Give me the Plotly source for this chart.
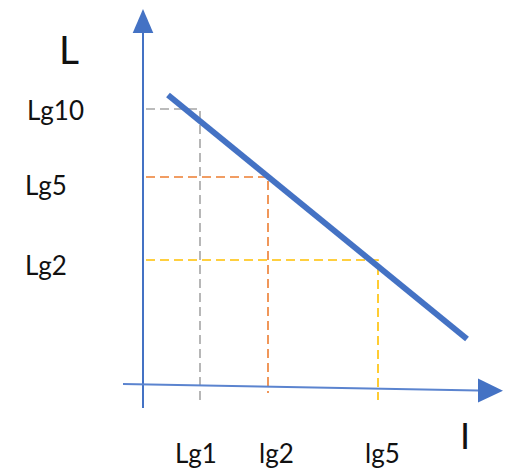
import plotly.graph_objects as go

# Schematic: L falls linearly as I grows (log scales), with read-off guides.
# Coordinates are measured from the origin where the two axes meet.

# Guide readings on the I axis and the L axis
i_labels = ["Lg1", "lg2", "lg5"]
i_values = [57, 125, 235]
l_labels = ["Lg10", "Lg5", "Lg2"]
l_values = [276, 208, 125]
guide_colors = ["#A5A5A5", "#ED7D31", "#FFC000"]
guide_bottoms = [-17, -8, -15]

# The falling L-I line
line_i = [25, 324]
line_l = [290, 46]

# Axis extents (axis line start/end, arrow tip)
y_axis_span = [-23, 352, 376]      # bottom, arrow base, arrow tip
x_axis_start = (-20, 1)
x_axis_base = (335, -5.5)
x_axis_tip = (360, -5.7)

X_RANGE = [-143, 363]
Y_RANGE = [-84, 385]
AXIS_BLUE = "#4472C4"
FONT = "Lato"
TEXT = "#111111"

fig = go.Figure()

# Dashed read-off guides
for xv, yv, col, yb in zip(i_values, l_values, guide_colors, guide_bottoms):
    fig.add_trace(go.Scatter(
        x=[3, xv, xv], y=[yv, yv, yb], mode="lines",
        line=dict(color=col, width=1.6, dash="9px,5px"),
        hoverinfo="skip", showlegend=False))

# Main line
fig.add_trace(go.Scatter(
    x=line_i, y=line_l, mode="lines",
    line=dict(color=AXIS_BLUE, width=6),
    hoverinfo="skip", showlegend=False))

shapes = []
# Vertical (L) axis with arrow
shapes.append(dict(type="line", xref="x", yref="y", x0=0, y0=y_axis_span[0],
                   x1=0, y1=y_axis_span[1], line=dict(color=AXIS_BLUE, width=2)))
shapes.append(dict(type="path", xref="x", yref="y",
                   path=f"M -10.3 {y_axis_span[1]} L 10.3 {y_axis_span[1]} L 0 {y_axis_span[2]} Z",
                   fillcolor=AXIS_BLUE, line=dict(color=AXIS_BLUE, width=0)))
# Horizontal (I) axis with arrow
shapes.append(dict(type="line", xref="x", yref="y", x0=x_axis_start[0], y0=x_axis_start[1],
                   x1=x_axis_base[0], y1=x_axis_base[1], line=dict(color="#5B84CF", width=2)))
bx, by = x_axis_base
tx, ty = x_axis_tip
shapes.append(dict(type="path", xref="x", yref="y",
                   path=f"M {bx} {by + 12} L {bx} {by - 12} L {tx} {ty} Z",
                   fillcolor=AXIS_BLUE, line=dict(color=AXIS_BLUE, width=0)))

annotations = []
# Axis titles
annotations.append(dict(x=-74, y=336, text="L", showarrow=False, xref="x", yref="y",
                        font=dict(family=FONT, size=39, color=TEXT)))
annotations.append(dict(x=322, y=-50, text="I", showarrow=False, xref="x", yref="y",
                        font=dict(family=FONT, size=36, color=TEXT)))
# Tick labels, nudged from their guide levels
l_label_x = [-88, -97, -97]
l_label_dy = [-1, -8, -5]
for lab, yv, lx, dy in zip(l_labels, l_values, l_label_x, l_label_dy):
    annotations.append(dict(x=lx, y=yv + dy, text=lab, showarrow=False, xref="x", yref="y",
                            font=dict(family=FONT, size=26, color=TEXT)))
i_label_dx = [-4, 8, 4]
for lab, xv, dx in zip(i_labels, i_values, i_label_dx):
    annotations.append(dict(x=xv + dx, y=-68, text=lab, showarrow=False, xref="x", yref="y",
                            font=dict(family=FONT, size=26, color=TEXT)))

fig.update_layout(
    width=506, height=469,
    margin=dict(l=0, r=0, t=0, b=0),
    paper_bgcolor="white", plot_bgcolor="white",
    xaxis=dict(range=X_RANGE, visible=False, fixedrange=True),
    yaxis=dict(range=Y_RANGE, visible=False, fixedrange=True),
    shapes=shapes, annotations=annotations,
    showlegend=False,
)

fig.write_html("out.html")
